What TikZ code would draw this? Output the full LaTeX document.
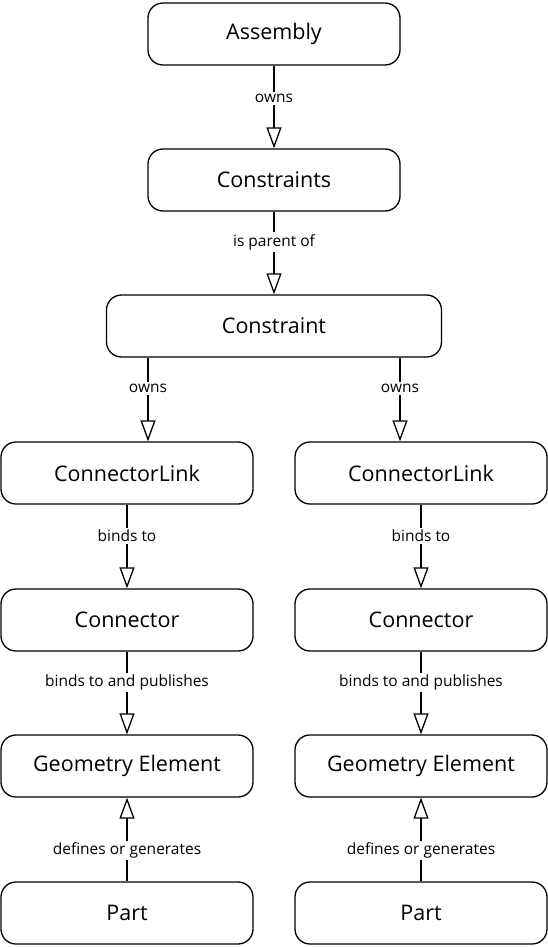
\documentclass[tikz,border=0pt]{standalone}
\usepackage{fontspec}
\setmainfont{Open Sans}
\usetikzlibrary{arrows.meta}
\tikzset{
  box/.style={draw, line width=1.3pt, rounded corners=15pt, minimum height=62pt, font=\fontsize{21.5}{24}\selectfont},
  lbl/.style={fill=white, inner sep=2pt, font=\fontsize{15.5}{18}\selectfont},
  rel/.style={line width=1.3pt, -{Triangle[open, width=15pt, length=21pt, line width=1.3pt]}},
}
\begin{document}
\begin{tikzpicture}[x=1pt, y=-1pt]
  \useasboundingbox (0,0) rectangle (548,947);
		\node[box, minimum width=252pt] (asm) at (274,34) {Assembly};
		\node[box, minimum width=252pt] (csts) at (274,180) {Constraints};
		\node[box, minimum width=335pt] (cst) at (274,326) {Constraint};
			
		\coordinate (lx) at (148,0);  \coordinate (rx) at (400,0);
		
		\foreach \s/\x in {l/127, r/421} {
			\node[box, minimum width=252pt] (link\s) at (\x,473) {ConnectorLink};
			\node[box, minimum width=252pt] (con\s) at (\x,620) {Connector};
			\node[box, minimum width=252pt] (geo\s) at (\x,766) {Geometry Element};
			\node[box, minimum width=252pt] (part\s) at (\x,913) {Part};
			
			\draw[rel] (link\s) -- node[lbl, pos=0.37] {binds to} (con\s);
			\draw[rel] (con\s) -- node[lbl, pos=0.37] {binds to and publishes} (geo\s);
			\draw[rel] (part\s) -- node[lbl, pos=0.37] {defines or generates} (geo\s);
		}
		
		\draw[rel] (asm) -- node[lbl, pos=0.4] {owns} (csts);
		\draw[rel] (csts) -- node[lbl, pos=0.37] {is parent of} (cst);
		\draw[rel] (cst.south -| lx) -- node[lbl, pos=0.37] {owns} (linkl.north -| lx);
		\draw[rel] (cst.south -| rx) -- node[lbl, pos=0.37] {owns} (linkr.north -| rx);
\end{tikzpicture}
\end{document}
